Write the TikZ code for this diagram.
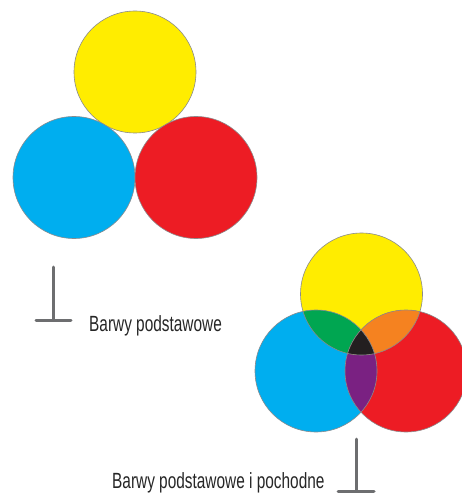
\documentclass[tikz,border=0pt]{standalone}
\usepackage{fontspec}
\setmainfont[FakeStretch=0.70]{Liberation Sans}
\definecolor{cyel}{HTML}{FFED00}
\definecolor{cblu}{HTML}{00AEEF}
\definecolor{cred}{HTML}{ED1C24}
\definecolor{cgrn}{HTML}{00A651}
\definecolor{corg}{HTML}{F58220}
\definecolor{cpur}{HTML}{7A2182}
\definecolor{cblk}{HTML}{231F20}
\definecolor{cline}{HTML}{6D6E70}
\begin{document}
\begin{tikzpicture}[x=1pt,y=-1pt,
  rim/.style={draw=cline!80, line width=0.6pt},
  tbar/.style={draw=cline, line width=3pt, line cap=round},
  lbl/.style={anchor=base west, inner sep=0pt, font=\fontsize{22}{26}\selectfont, text=black!85}]
\useasboundingbox (0,0) rectangle (461,497);
% top group
\def\R{61}
\fill[cyel] (135,72) circle (\R);
\draw[rim] (135,72) circle (\R);
\fill[cblu] (74,177.5) circle (\R);
\draw[rim] (74,177.5) circle (\R);
\fill[cred] (196,177.5) circle (\R);
\draw[rim] (196,177.5) circle (\R);
% bottom group
\coordinate (Y) at (361.5,294);
\coordinate (B) at (316,371);
\coordinate (Rd) at (406,371);
\fill[cyel] (Y) circle (\R);
\fill[cblu] (B) circle (\R);
\fill[cred] (Rd) circle (\R);
\begin{scope}
  \clip (B) circle (\R);
  \fill[cgrn] (Y) circle (\R);
  \fill[cpur] (Rd) circle (\R);
\end{scope}
\begin{scope}
  \clip (Y) circle (\R);
  \fill[corg] (Rd) circle (\R);
  \clip (B) circle (\R);
  \fill[cblk] (Rd) circle (\R);
\end{scope}
\draw[rim] (Y) circle (\R);
\draw[rim] (B) circle (\R);
\draw[rim] (Rd) circle (\R);
% labels
\node[lbl] (l1) at (89,331.5) {Barwy podstawowe};
\coordinate (t1a) at (53.5,267);
\coordinate (t1b) at (53.5,320);
\coordinate (t1l) at (36,320);
\coordinate (t1r) at (71,320);
\draw[tbar] (t1a) -- (t1b);
\draw[tbar] (t1l) -- (t1r);
\node[lbl] (l2) at (112,488) {Barwy podstawowe i pochodne};
\coordinate (t2a) at (356.5,439);
\coordinate (t2b) at (356.5,491);
\coordinate (t2l) at (338,491);
\coordinate (t2r) at (374,491);
\draw[tbar] (t2a) -- (t2b);
\draw[tbar] (t2l) -- (t2r);
\end{tikzpicture}
\end{document}
